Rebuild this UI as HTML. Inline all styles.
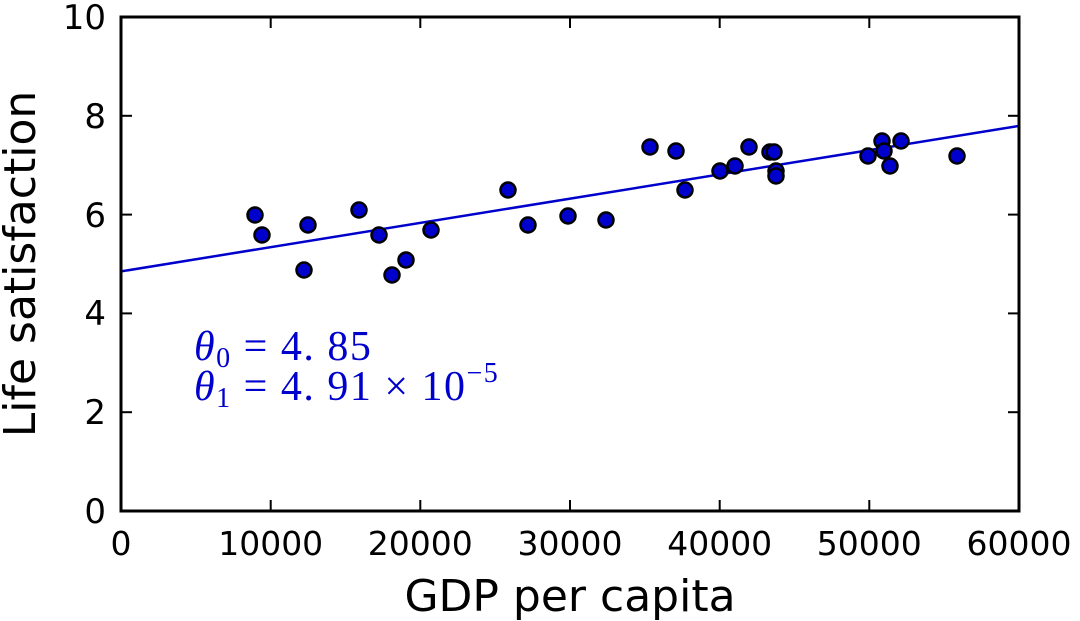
<!DOCTYPE html>
<html><head><style>body{margin:0;background:#fff}svg{display:block}</style></head>
<body>
<svg width="1080" height="621" xmlns="http://www.w3.org/2000/svg" font-family="DejaVu Sans, Liberation Sans, sans-serif">
<rect width="1080" height="621" fill="#fff"/>
<line x1="121" y1="271.4" x2="1019" y2="125.9" stroke="#0000cc" stroke-width="2.5"/>
<g fill="#0000cc" stroke="#000" stroke-width="2.5">
<circle cx="255" cy="215" r="7.5"/><circle cx="262" cy="235" r="7.5"/><circle cx="304" cy="270" r="7.5"/><circle cx="308" cy="225" r="7.5"/><circle cx="359" cy="210" r="7.5"/><circle cx="379" cy="235" r="7.5"/><circle cx="392" cy="275" r="7.5"/><circle cx="406" cy="260" r="7.5"/><circle cx="431" cy="230" r="7.5"/><circle cx="508" cy="190" r="7.5"/><circle cx="528" cy="225" r="7.5"/><circle cx="568" cy="216" r="7.5"/><circle cx="606" cy="220" r="7.5"/><circle cx="650" cy="147" r="7.5"/><circle cx="676" cy="151" r="7.5"/><circle cx="685" cy="190" r="7.5"/><circle cx="720" cy="171" r="7.5"/><circle cx="735" cy="166" r="7.5"/><circle cx="749" cy="147" r="7.5"/><circle cx="770" cy="152" r="7.5"/><circle cx="774" cy="152" r="7.5"/><circle cx="776" cy="171" r="7.5"/><circle cx="776" cy="176" r="7.5"/><circle cx="868" cy="156" r="7.5"/><circle cx="882" cy="141" r="7.5"/><circle cx="884" cy="151" r="7.5"/><circle cx="890" cy="166" r="7.5"/><circle cx="901" cy="141" r="7.5"/><circle cx="957" cy="156" r="7.5"/>
</g>
<rect x="121" y="17" width="898" height="494" fill="none" stroke="#000" stroke-width="3"/>
<g stroke="#000" stroke-width="2">
<line x1="270.7" y1="511" x2="270.7" y2="500"/><line x1="270.7" y1="17" x2="270.7" y2="28"/>
<line x1="420.3" y1="511" x2="420.3" y2="500"/><line x1="420.3" y1="17" x2="420.3" y2="28"/>
<line x1="570" y1="511" x2="570" y2="500"/><line x1="570" y1="17" x2="570" y2="28"/>
<line x1="719.7" y1="511" x2="719.7" y2="500"/><line x1="719.7" y1="17" x2="719.7" y2="28"/>
<line x1="869.3" y1="511" x2="869.3" y2="500"/><line x1="869.3" y1="17" x2="869.3" y2="28"/>
<line x1="121" y1="412.2" x2="132" y2="412.2"/><line x1="1019" y1="412.2" x2="1008" y2="412.2"/>
<line x1="121" y1="313.4" x2="132" y2="313.4"/><line x1="1019" y1="313.4" x2="1008" y2="313.4"/>
<line x1="121" y1="214.6" x2="132" y2="214.6"/><line x1="1019" y1="214.6" x2="1008" y2="214.6"/>
<line x1="121" y1="115.8" x2="132" y2="115.8"/><line x1="1019" y1="115.8" x2="1008" y2="115.8"/>
</g>
<g font-size="33" fill="#000" text-anchor="middle">
<text x="121" y="555">0</text><text x="270.7" y="555">10000</text><text x="420.3" y="555">20000</text><text x="570" y="555">30000</text><text x="719.7" y="555">40000</text><text x="869.3" y="555">50000</text><text x="1019" y="555">60000</text>
</g>
<g font-size="34" fill="#000" text-anchor="end">
<text x="106" y="523">0</text><text x="106" y="424">2</text><text x="106" y="325">4</text><text x="106" y="227">6</text><text x="106" y="128">8</text><text x="106" y="29">10</text>
</g>
<text x="570" y="611" font-size="44" text-anchor="middle">GDP per capita</text>
<text transform="translate(35,264) rotate(-90)" font-size="44" text-anchor="middle">Life satisfaction</text>
<g font-family="Liberation Serif, serif" font-size="42" fill="#0000cc" letter-spacing="1.5">
<text x="194" y="360"><tspan font-style="italic">θ</tspan><tspan font-size="28" dy="7">0</tspan><tspan dy="-7"> = 4. 85</tspan></text>
<text x="194" y="400"><tspan font-style="italic">θ</tspan><tspan font-size="28" dy="7">1</tspan><tspan dy="-7"> = 4. 91 × 10</tspan><tspan font-size="28" dy="-18">−5</tspan></text>
</g>
</svg>
</body></html>
